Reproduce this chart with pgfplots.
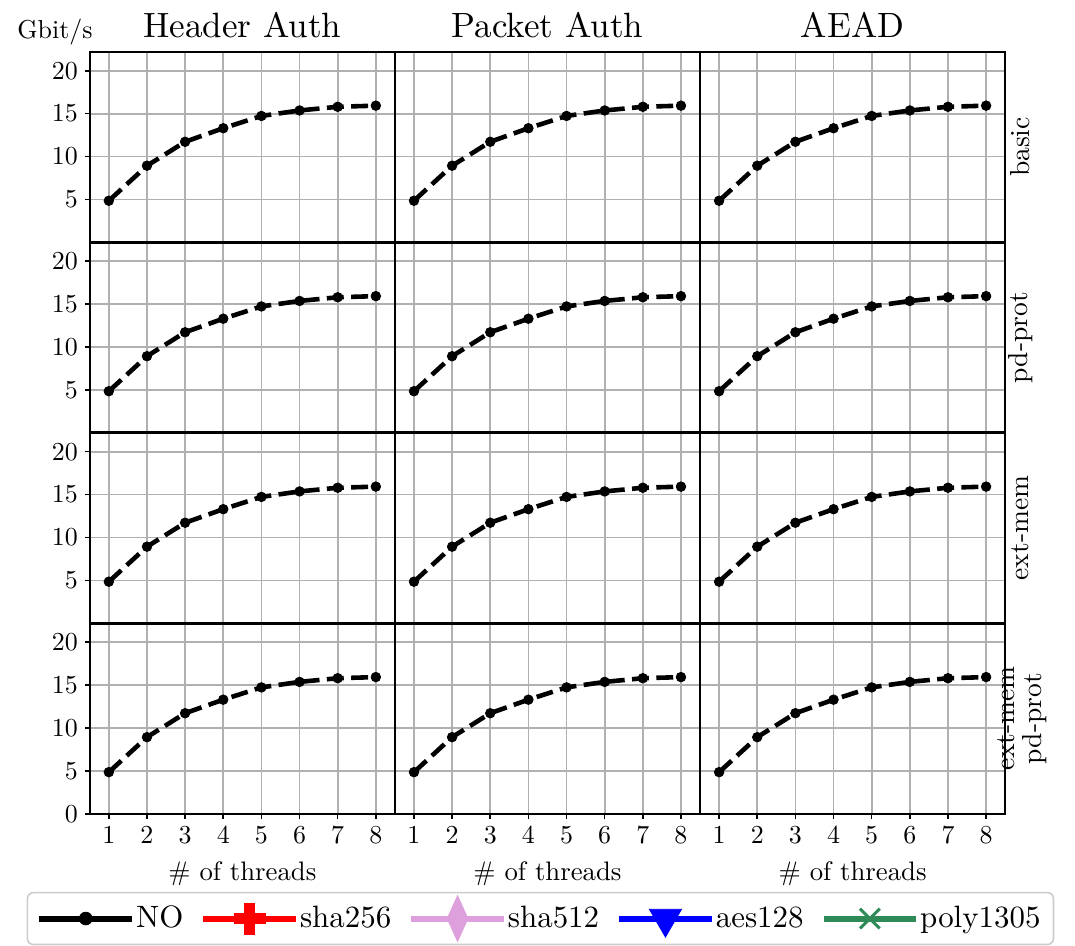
\documentclass[border=0pt]{standalone}
\usepackage{fontspec}
\setmainfont{lmroman10-regular}[Extension=.otf]
\usepackage{pgfplots}
\pgfplotsset{compat=1.18}
\usepgfplotslibrary{groupplots}
\usetikzlibrary{calc}
\definecolor{gridgray}{RGB}{176,176,176}
\definecolor{plumc}{RGB}{221,160,221}
\definecolor{seagreenc}{RGB}{46,139,87}
\definecolor{legframe}{RGB}{204,204,204}

\pgfplotstableread{
x y
1 4.85
2 8.93
3 11.72
4 13.30
5 14.73
6 15.37
7 15.80
8 15.93
}\datano

\tikzset{
  rowlab/.style={rotate=90, anchor=center, align=center, font=\fontsize{13.8}{13.5}\selectfont},
}
\pgfplotsset{
  noplot/.style={black, line width=2.3pt, dash pattern=on 8.5pt off 3.7pt,
    mark=*, mark size=2.4pt, mark options={solid, line width=0.4pt}, forget plot},
  noxt/.style={xtick style={draw=none}},
  noyt/.style={ytick style={draw=none}},
}

\begin{document}
\begin{tikzpicture}
\begin{groupplot}[
  group style={group size=3 by 4, horizontal sep=0pt, vertical sep=0pt,
    xticklabels at=edge bottom, yticklabels at=edge left},
  scale only axis, width=153pt, height=95.5pt,
  xmin=0.5, xmax=8.5, ymin=0, ymax=22.2, clip=false,
  xtick={1,...,8}, ytick={5,10,15,20},
  grid=major, grid style={line width=0.9pt, color=gridgray},
  axis line style={line width=0.9pt},
  tick align=outside, major tick length=2.5pt,
  tick style={line width=0.8pt, black},
  xtick pos=bottom, ytick pos=left,
  tick label style={font=\fontsize{13}{15}\selectfont},
  /pgf/number format/assume math mode=true,
  every axis title/.style={font=\fontsize{17.6}{20}\selectfont, at={(0.5,1.14)}, anchor=center},
  xlabel style={font=\fontsize{13.4}{15}\selectfont, at={(axis description cs:0.5,-0.314)}, anchor=center},
  legend image code/.code={\draw[mark repeat=2,mark phase=2,#1] plot coordinates {(0pt,0pt)(23.25pt,0pt)(46.5pt,0pt)};},
]
% row 1
\nextgroupplot[title={Header Auth}, noxt]
\addplot[noplot] table {\datano};
\node[font=\fontsize{13}{15}\selectfont] at (rel axis cs:-0.114,1.105) {Gbit/s};
\nextgroupplot[title={Packet Auth}, noxt, noyt]
\addplot[noplot] table {\datano};
\nextgroupplot[title={AEAD}, noxt, noyt]
\addplot[noplot] table {\datano};
\node[rowlab] at (rel axis cs:1.05,0.5) {basic};
% row 2
\nextgroupplot[noxt]
\addplot[noplot] table {\datano};
\nextgroupplot[noxt, noyt]
\addplot[noplot] table {\datano};
\nextgroupplot[noxt, noyt]
\addplot[noplot] table {\datano};
\node[rowlab] at (rel axis cs:1.05,0.5) {pd-prot};
% row 3
\nextgroupplot[noxt]
\addplot[noplot] table {\datano};
\nextgroupplot[noxt, noyt]
\addplot[noplot] table {\datano};
\nextgroupplot[noxt, noyt]
\addplot[noplot] table {\datano};
\node[rowlab] at (rel axis cs:1.05,0.5) {ext-mem};
% row 4
\nextgroupplot[ytick={0,5,10,15,20}, xlabel={\# of threads}]
\addplot[noplot] table {\datano};
\nextgroupplot[noyt, xlabel={\# of threads},
  legend columns=5,
  legend style={at={(0.477,-0.55)}, anchor=center, draw=legframe, rounded corners=3pt,
    line width=0.8pt, font=\fontsize{15.5}{17}\selectfont, inner xsep=4.5pt, inner ysep=1.5pt,
    /tikz/every odd column/.append style={column sep=-1.5pt},
    /tikz/every even column/.append style={column sep=6.5pt}},
]
\addplot[noplot] table {\datano};
\addlegendimage{black, line width=3pt, mark=*, mark size=3.2pt, mark options={line width=0.4pt}}
\addlegendentry{NO}
\addlegendimage{red, line width=3pt, mark=+, mark size=8pt, mark options={line width=5.5pt}}
\addlegendentry{sha256}
\addlegendimage{plumc, line width=3pt, mark=diamond*, mark size=11.5pt, mark options={xscale=0.6, line width=0.4pt}}
\addlegendentry{sha512}
\addlegendimage{blue, line width=3pt, mark=triangle*, mark size=9.3pt, mark options={rotate=180, line width=0.4pt}}
\addlegendentry{aes128}
\addlegendimage{seagreenc, line width=3pt, mark=x, mark size=7pt, mark options={line width=1.5pt}}
\addlegendentry{poly1305}
\nextgroupplot[noyt, xlabel={\# of threads}]
\addplot[noplot] table {\datano};
\node[rowlab] at (rel axis cs:1.056,0.5) {ext-mem\\pd-prot};
\end{groupplot}
\foreach \r in {1,2,3} {
  \draw[line width=1.6pt] (group c1r\r.south west) -- (group c3r\r.south east);
}
\pgfresetboundingbox
\path ($(group c1r1.north west)+(-45pt,26pt)$) rectangle ($(group c3r4.south east)+(35pt,-66pt)$);
\end{tikzpicture}
\end{document}
